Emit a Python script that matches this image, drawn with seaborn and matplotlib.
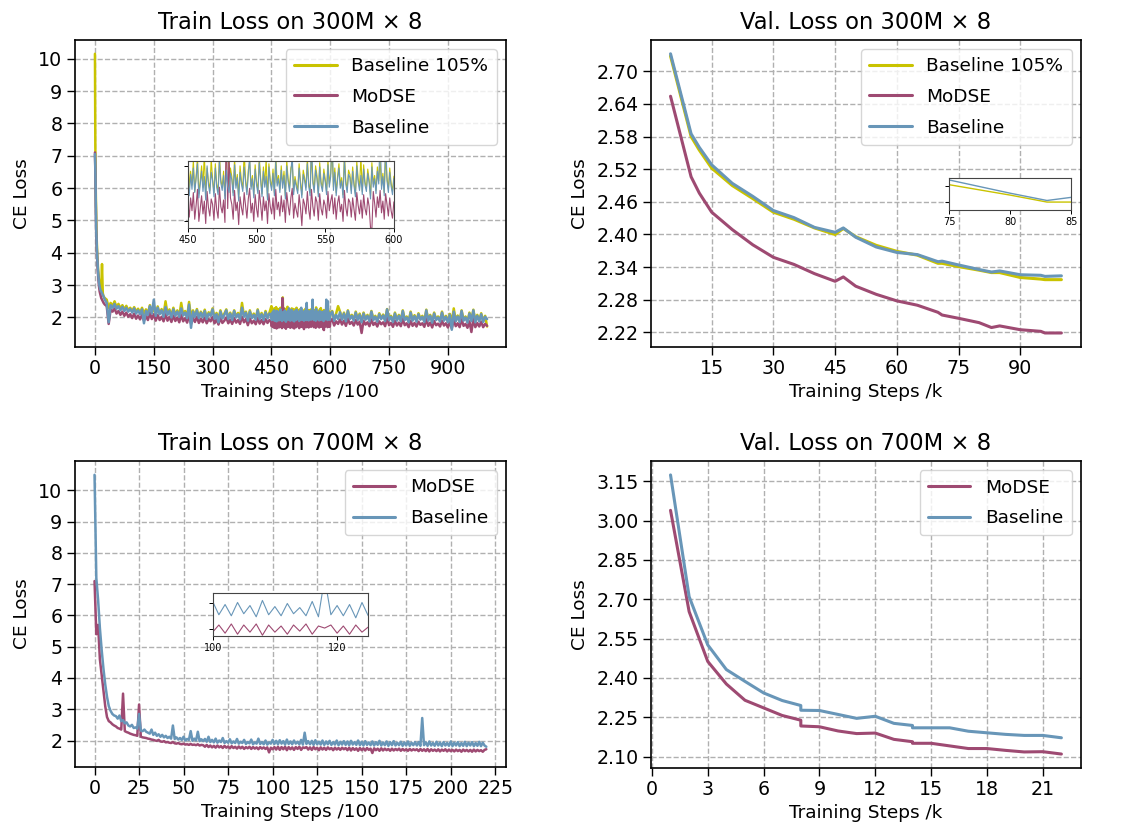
import numpy as np
import pandas as pd
import matplotlib
matplotlib.use("Agg")
import matplotlib.pyplot as plt
import seaborn as sns
from matplotlib.ticker import MultipleLocator, FormatStrFormatter

sns.set_theme(style="ticks")
plt.rcParams['font.family'] = ['DejaVu Sans']
plt.rcParams['axes.edgecolor'] = 'black'
plt.rcParams['xtick.color'] = 'black'
plt.rcParams['ytick.color'] = 'black'
plt.rcParams['axes.labelcolor'] = 'black'
plt.rcParams['text.color'] = 'black'

C_B105 = '#c9c300'
C_MODSE = '#9e4a72'
C_BASE = '#6896b8'

# ---------------- Train loss 300M x 8 (steps /100) ----------------
train300_steps = ([0, 1, 2, 3, 4, 5, 6, 8, 10, 12, 14, 16, 18, 20, 22, 25]
                  + list(range(30, 450, 5)) + list(range(450, 601)) + list(range(605, 1001, 5)))

train300_b105 = [
    10.15, 7.3, 6.0, 5.2, 4.6, 4.2, 3.9, 3.5, 3.2, 3.0, 2.9, 2.85, 3.65, 2.75, 2.65, 2.6,
    2.55, 2.30, 2.45, 2.35, 2.50, 2.32, 2.42, 2.28, 2.38, 2.25,
    2.36, 2.22, 2.30, 2.20, 2.32, 2.18, 2.27, 2.15, 2.30, 2.12,
    2.25, 2.12, 2.38, 2.15, 2.28, 2.10, 2.34, 2.12, 2.26, 2.08,
    2.50, 2.10, 2.25, 2.05, 2.30, 2.08, 2.22, 2.04, 2.45, 2.08,
    2.20, 2.02, 2.48, 2.00, 2.22, 2.05, 2.26, 2.00, 2.18, 2.03,
    2.24, 1.98, 2.16, 2.08, 2.28, 2.00, 2.14, 1.96, 2.22, 2.00,
    2.12, 2.25, 1.98, 2.15, 1.96, 2.22, 2.03, 2.14, 1.98, 2.45,
    2.05, 2.18, 1.94, 2.22, 2.00, 2.12, 1.96, 2.25, 1.98, 2.14,
    1.95, 2.20, 2.00, 2.15,
    # 450..600 every step
    2.35, 1.98, 2.15, 2.02, 2.25, 1.96, 2.10, 2.28, 1.94, 2.06,
    2.20, 2.00, 2.32, 1.92, 2.18, 2.05, 1.97, 2.26, 2.08, 1.95,
    2.22, 2.03, 1.96, 2.30, 2.07, 2.00, 2.15, 1.92, 2.24, 2.62,
    1.99, 2.18, 2.10, 1.95, 2.27, 2.02, 2.12, 1.90, 2.20, 2.06,
    1.99, 2.33, 2.08, 1.96, 2.16, 2.24, 2.01, 2.11, 1.93, 2.21,
    2.05, 1.97, 2.28, 2.09, 1.94, 2.19, 2.03, 2.26, 1.91, 2.22,
    2.07, 2.00, 2.17, 1.95, 2.30, 2.04, 2.11, 1.98, 2.20, 2.02,
    2.15, 1.92, 2.25, 2.08, 1.99, 2.18, 2.22, 1.96, 2.10, 2.03,
    1.97, 2.22, 2.06, 1.93, 2.16, 2.09, 2.00, 2.27, 2.04, 1.95,
    2.30, 2.07, 1.98, 2.20, 2.11, 1.94, 2.23, 2.05, 1.99, 2.17,
    2.08, 1.96, 2.26, 2.03, 2.13, 2.35, 2.00, 2.18, 1.95, 2.10,
    2.22, 2.02, 2.09, 1.93, 2.31, 2.06, 1.98, 2.16, 2.12, 1.97,
    2.19, 2.04, 1.94, 2.24, 2.08, 2.00, 2.29, 1.96, 2.21, 2.05,
    1.99, 2.17, 2.07, 1.92, 2.23, 2.03, 2.11, 1.97, 2.19, 2.06,
    2.25, 2.01, 2.13, 1.95, 2.28, 2.09, 1.98, 2.18, 2.04, 1.96,
    2.10,
    # 605..1000 every 5
    2.20, 1.93, 2.12, 2.35, 2.18,
    1.96, 2.15, 1.91, 2.22, 1.98, 2.08, 1.93, 2.18, 1.95, 2.12,
    1.88, 2.15, 1.96, 2.08, 1.91, 2.20, 1.95, 2.05, 1.90, 2.13,
    1.98, 2.09, 1.92, 2.26, 1.95, 2.05, 1.89, 2.15, 1.93, 2.08,
    1.91, 2.22, 1.95, 2.03, 1.88, 2.18, 1.93, 2.07, 1.90, 2.13,
    1.96, 2.05, 1.89, 2.24, 1.93, 2.08, 1.87, 2.15, 1.95, 2.03,
    1.90, 2.18, 1.93, 2.05, 1.88, 2.11, 1.85, 2.28, 1.91, 2.06,
    1.89, 2.22, 1.93, 2.03, 1.87, 2.15, 1.92, 2.24, 1.88, 2.08,
    1.91, 2.13, 1.89, 2.05, 1.72,
]

train300_modse = [
    7.1, 6.5, 5.5, 4.7, 4.3, 4.0, 3.7, 3.3, 3.0, 2.8, 2.7, 2.6, 2.55, 2.5, 2.45, 2.4,
    2.35, 1.80, 2.25, 2.18, 2.28, 2.12, 2.20, 2.08, 2.18, 2.05,
    2.15, 2.02, 2.10, 1.98, 2.12, 1.96, 2.06, 1.94, 2.08, 1.90,
    2.04, 1.92, 2.15, 1.95, 2.10, 1.90, 2.08, 1.92, 2.02, 1.88,
    2.10, 1.90, 2.02, 1.86, 2.06, 1.89, 2.00, 1.85, 2.08, 1.88,
    1.98, 1.84, 2.05, 1.80, 1.98, 1.86, 2.02, 1.83, 1.96, 1.85,
    2.00, 1.82, 1.95, 1.88, 2.02, 1.82, 1.94, 1.78, 1.98, 1.83,
    1.90, 2.00, 1.82, 1.93, 1.80, 1.98, 1.84, 1.92, 1.80, 2.02,
    1.85, 1.95, 1.76, 1.97, 1.82, 1.90, 1.79, 1.98, 1.81, 1.92,
    1.79, 1.95, 1.83, 1.92,
    # 450..600 every step
    1.85, 1.72, 1.90, 1.78, 1.95, 1.70, 1.83, 1.98, 1.68, 1.80,
    1.92, 1.75, 1.87, 1.66, 1.96, 1.81, 1.73, 1.89, 1.84, 1.69,
    1.94, 1.79, 1.71, 2.00, 1.82, 1.76, 1.88, 1.67, 2.60, 1.80,
    2.30, 1.90, 1.84, 1.70, 1.97, 1.78, 1.86, 1.65, 1.91, 1.81,
    1.74, 1.95, 1.83, 1.71, 1.89, 1.99, 1.76, 1.85, 1.68, 1.93,
    1.80, 1.72, 1.97, 1.84, 1.69, 1.91, 1.78, 1.87, 1.66, 1.94,
    1.82, 1.75, 1.90, 1.70, 1.98, 1.79, 1.86, 1.73, 1.92, 1.77,
    1.88, 1.67, 1.95, 1.83, 1.74, 1.90, 1.99, 1.71, 1.85, 1.78,
    1.72, 1.93, 1.81, 1.64, 1.89, 1.84, 1.75, 1.96, 1.79, 1.70,
    1.98, 1.82, 1.73, 1.91, 1.86, 1.69, 1.94, 1.80, 1.74, 1.88,
    1.83, 1.71, 1.96, 1.78, 1.87, 1.93, 1.75, 1.90, 1.70, 1.85,
    1.92, 1.77, 1.84, 1.68, 1.97, 1.81, 1.73, 1.89, 1.86, 1.72,
    1.90, 1.79, 1.69, 1.95, 1.83, 1.75, 1.88, 1.71, 1.93, 1.80,
    1.74, 1.90, 1.82, 1.62, 1.61, 1.96, 1.85, 1.72, 1.91, 1.81,
    1.97, 1.76, 1.87, 1.70, 1.94, 1.84, 1.73, 1.90, 1.78, 1.71,
    1.86,
    # 605..1000 every 5
    1.95, 1.75, 1.88, 1.80, 1.94,
    1.78, 1.90, 1.74, 1.96, 1.80, 1.86, 1.75, 1.92, 1.78, 1.87,
    1.52, 1.90, 1.78, 1.85, 1.73, 1.94, 1.77, 1.84, 1.72, 1.88,
    1.79, 1.85, 1.73, 1.98, 1.76, 1.83, 1.71, 1.90, 1.75, 1.84,
    1.73, 1.95, 1.76, 1.82, 1.70, 1.90, 1.74, 1.83, 1.72, 1.87,
    1.77, 1.82, 1.71, 1.95, 1.74, 1.84, 1.69, 1.89, 1.76, 1.81,
    1.72, 1.90, 1.75, 1.82, 1.69, 1.86, 1.66, 1.92, 1.73, 1.82,
    1.70, 1.94, 1.74, 1.80, 1.68, 1.88, 1.55, 1.95, 1.70, 1.83,
    1.72, 1.87, 1.70, 1.80, 1.74,
]

train300_base = [
    7.05, 6.6, 5.6, 4.8, 4.4, 4.1, 3.8, 3.4, 3.1, 2.95, 2.85, 2.8, 2.75, 2.7, 2.65, 2.55,
    2.45, 1.85, 2.38, 2.30, 2.42, 2.27, 2.35, 2.22, 2.33, 2.20,
    2.30, 2.18, 2.26, 2.15, 2.28, 2.12, 2.22, 2.10, 2.25, 1.82,
    2.20, 2.08, 2.35, 2.12, 2.55, 2.05, 2.30, 2.10, 2.22, 2.02,
    2.32, 2.08, 2.20, 2.00, 2.25, 2.05, 2.18, 2.02, 2.28, 2.06,
    2.15, 1.98, 2.40, 1.68, 2.18, 2.02, 2.22, 1.98, 2.15, 2.00,
    2.20, 1.95, 2.12, 2.05, 2.25, 1.96, 2.10, 1.85, 2.18, 1.97,
    2.08, 2.22, 1.95, 2.12, 1.92, 2.20, 2.00, 2.10, 1.94, 2.30,
    2.02, 2.15, 1.90, 2.18, 1.98, 2.08, 1.93, 2.22, 1.95, 2.10,
    1.92, 2.16, 1.97, 2.12,
    # 450..600 every step
    2.05, 1.92, 2.12, 1.98, 2.18, 1.95, 2.08, 2.22, 1.90, 2.03,
    2.15, 1.96, 2.10, 1.88, 2.20, 2.02, 1.94, 2.14, 2.06, 1.91,
    2.18, 2.00, 1.93, 2.25, 2.04, 1.97, 2.11, 1.89, 2.16, 2.01,
    1.95, 2.13, 2.07, 1.92, 2.21, 1.99, 2.09, 1.87, 2.14, 2.03,
    1.96, 2.19, 2.05, 1.93, 2.12, 2.28, 1.98, 2.08, 1.90, 2.17,
    2.02, 1.94, 2.23, 2.06, 1.91, 2.15, 2.00, 2.10, 1.88, 2.19,
    2.04, 1.97, 2.13, 1.92, 2.24, 2.01, 2.08, 1.95, 2.16, 1.99,
    2.11, 1.89, 2.20, 2.05, 1.96, 2.14, 2.30, 1.93, 2.07, 2.00,
    1.94, 2.18, 2.03, 1.90, 2.12, 2.06, 1.97, 2.22, 2.01, 1.92,
    2.45, 2.04, 1.95, 2.16, 2.08, 1.91, 2.19, 2.02, 1.96, 2.13,
    2.05, 1.93, 2.21, 2.00, 2.10, 2.55, 1.97, 2.14, 1.92, 2.07,
    2.18, 1.99, 2.06, 1.90, 2.26, 2.03, 1.95, 2.12, 2.09, 1.94,
    2.15, 2.01, 1.91, 2.20, 2.05, 1.97, 2.11, 1.93, 2.17, 2.02,
    1.96, 2.13, 2.04, 1.89, 2.19, 2.00, 2.08, 1.94, 2.15, 2.03,
    2.55, 1.98, 2.10, 1.92, 2.50, 2.06, 1.95, 2.14, 2.01, 1.93,
    2.08,
    # 605..1000 every 5
    2.18, 1.90, 2.08, 1.95, 2.16,
    1.93, 2.12, 1.88, 2.20, 1.95, 2.05, 1.90, 2.15, 1.92, 2.08,
    1.85, 2.12, 1.93, 2.05, 1.88, 2.18, 1.92, 2.02, 1.87, 2.10,
    1.95, 2.06, 1.89, 2.25, 1.92, 2.02, 1.86, 2.12, 1.90, 2.05,
    1.88, 2.20, 1.92, 2.00, 1.85, 2.15, 1.90, 2.04, 1.87, 2.10,
    1.93, 2.02, 1.86, 2.22, 1.90, 2.05, 1.84, 2.12, 1.92, 2.00,
    1.87, 2.15, 1.90, 2.02, 1.85, 2.08, 1.62, 2.18, 1.88, 2.03,
    1.86, 2.20, 1.90, 2.00, 1.84, 2.12, 1.89, 2.22, 1.85, 2.05,
    1.88, 2.10, 1.86, 2.02, 1.95,
]

# ---------------- Val loss 300M x 8 (steps /k) ----------------
val300_steps = [5, 10, 12, 15, 20, 25, 30, 35, 40, 45, 47, 50, 55, 60, 65, 70, 71, 75, 80, 83, 85, 90, 95, 96, 100]
val300_b105 = [2.728, 2.580, 2.555, 2.522, 2.490, 2.466, 2.441, 2.428, 2.412, 2.400, 2.411, 2.396, 2.380,
               2.369, 2.362, 2.347, 2.347, 2.341, 2.3344, 2.330, 2.330, 2.321, 2.318, 2.317, 2.317]
val300_modse = [2.654, 2.506, 2.476, 2.441, 2.409, 2.381, 2.358, 2.345, 2.328, 2.314, 2.322, 2.305, 2.290,
                2.278, 2.270, 2.257, 2.252, 2.246, 2.238, 2.229, 2.232, 2.225, 2.222, 2.219, 2.219]
val300_base = [2.732, 2.585, 2.560, 2.528, 2.494, 2.470, 2.444, 2.431, 2.413, 2.404, 2.412, 2.395, 2.377,
               2.367, 2.363, 2.350, 2.351, 2.344, 2.3356, 2.331, 2.333, 2.326, 2.325, 2.323, 2.324]

# ---------------- Train loss 700M x 8 (steps /100) ----------------
train700_modse = [
    7.1, 5.4, 5.7, 4.6, 4.1, 3.6, 3.1, 2.75, 2.62, 2.58, 2.52,
    2.48, 2.45, 2.40, 2.38, 2.35, 3.50, 2.30, 2.27, 2.25, 2.22, 2.20, 2.18, 2.17, 2.15, 3.15, 2.12, 2.10, 2.09, 2.08, 2.06,
    2.05, 2.03, 2.02, 2.00, 1.99, 2.02, 1.97, 1.96, 1.98, 1.94, 1.95, 1.93, 1.92, 1.95, 1.91,
    1.90, 1.92, 1.89, 1.88, 1.90, 1.87, 1.88, 1.86, 1.89, 1.86, 1.87, 1.85, 1.88, 1.84, 1.86,
    1.85, 1.80, 1.86, 1.79, 1.84, 1.78, 1.83, 1.77, 1.84, 1.78, 1.82, 1.76, 1.83, 1.77, 1.81, 1.75, 1.82, 1.76, 1.80, 1.74,
    1.81, 1.75, 1.80, 1.73, 1.79, 1.75, 1.80, 1.73, 1.79, 1.74, 1.78, 1.72, 1.79, 1.74, 1.78, 1.73, 1.78, 1.62, 1.77, 1.72,
    1.79, 1.71, 1.80, 1.70, 1.79, 1.72, 1.80, 1.69, 1.79, 1.72, 1.78, 1.70, 1.79, 1.73, 1.80, 1.70, 1.78, 1.76, 1.79, 1.71,
    1.78, 1.70, 1.79, 1.72, 1.77, 1.69, 1.78, 1.71, 1.77, 1.70, 1.78, 1.72, 1.76, 1.69, 1.77, 1.71, 1.76, 1.70, 1.77, 1.72,
    1.76, 1.69, 1.77, 1.68, 1.76, 1.70, 1.75, 1.67, 1.76, 1.69, 1.75, 1.68, 1.76, 1.70, 1.74, 1.60, 1.75, 1.69, 1.74, 1.67,
    1.75, 1.68, 1.74, 1.69, 1.73, 1.67, 1.74, 1.68, 1.73, 1.69, 1.74, 1.67, 1.73, 1.68, 1.72, 1.67, 1.73, 1.68, 1.72, 1.69,
    1.72, 1.66, 1.73, 1.67, 1.72, 1.66, 1.73, 1.65, 1.72, 1.67, 1.71, 1.66, 1.72, 1.65, 1.71, 1.67, 1.72, 1.65, 1.71, 1.66,
    1.70, 1.65, 1.71, 1.66, 1.70, 1.64, 1.71, 1.66, 1.70, 1.65, 1.70, 1.64, 1.71, 1.65, 1.70, 1.66, 1.69, 1.64, 1.70, 1.72,
]
train700_base = [
    10.5, 7.2, 6.5, 5.6, 4.9, 4.3, 3.8, 3.4, 3.1, 2.95, 2.85,
    2.80, 2.78, 2.70, 2.80, 2.62, 2.65, 2.55, 2.58, 2.48, 2.45, 2.50, 2.40, 2.42, 2.38, 2.85, 2.32, 2.30, 2.35, 2.28, 2.25,
    2.22, 2.35, 2.18, 2.25, 2.15, 2.20, 2.12, 2.18, 2.10, 2.15, 2.08, 2.12, 2.06, 2.48, 2.05,
    2.10, 2.03, 2.08, 2.02, 2.12, 2.00, 2.05, 2.02, 2.30, 1.99, 2.06, 2.00, 2.28, 1.98, 2.04,
    1.98, 2.05, 1.96, 2.12, 1.95, 2.02, 1.94, 2.06, 1.93, 2.00, 1.95, 2.08, 1.92, 1.98, 1.93, 2.04, 1.91, 1.97, 1.92, 2.05,
    1.90, 1.96, 1.92, 2.02, 1.89, 1.95, 1.91, 2.03, 1.88, 1.94, 1.90, 2.06, 1.89, 1.95, 1.88, 2.00, 1.87, 1.94, 1.90, 2.02,
    1.89, 1.99, 1.88, 2.01, 1.90, 1.98, 1.87, 2.03, 1.89, 1.97, 1.88, 2.00, 1.90, 1.96, 1.88, 2.02, 1.87, 2.25, 1.89, 1.98,
    1.88, 1.99, 1.86, 2.01, 1.88, 1.96, 1.87, 2.00, 1.86, 1.97, 1.88, 1.99, 1.86, 1.95, 1.87, 2.00, 1.85, 1.96, 1.87, 1.98,
    1.86, 1.97, 1.85, 1.99, 1.87, 1.95, 1.86, 2.00, 1.85, 1.96, 1.84, 1.98, 1.86, 1.94, 1.85, 1.97, 1.84, 1.95, 1.86, 1.99,
    1.84, 1.94, 1.85, 1.97, 1.83, 1.95, 1.85, 1.98, 1.84, 1.93, 1.85, 1.96, 1.83, 1.94, 1.84, 1.97, 1.83, 1.93, 1.85, 1.95,
    1.84, 1.95, 1.83, 2.72, 1.85, 1.94, 1.83, 1.97, 1.84, 1.92, 1.83, 1.96, 1.84, 1.93, 1.82, 1.95, 1.84, 1.92, 1.83, 1.97,
    1.82, 1.93, 1.84, 1.95, 1.82, 1.92, 1.83, 1.96, 1.82, 1.93, 1.84, 1.95, 1.82, 1.92, 1.83, 1.96, 1.82, 1.93, 1.84, 1.80,
]
train700_steps = list(range(len(train700_base)))

# ---------------- Val loss 700M x 8 (steps /k) ----------------
val700_steps = [1, 2, 3, 4, 5, 6, 7, 8, 8, 9, 10, 11, 12, 13, 14, 14, 15, 16, 17, 18, 19, 20, 21, 22]
val700_modse = [3.039, 2.653, 2.463, 2.377, 2.315, 2.286, 2.257, 2.239, 2.217, 2.214, 2.198, 2.188,
                2.190, 2.166, 2.157, 2.151, 2.151, 2.141, 2.131, 2.131, 2.124, 2.118, 2.119, 2.110]
val700_base = [3.174, 2.710, 2.526, 2.432, 2.387, 2.343, 2.314, 2.295, 2.277, 2.276, 2.261, 2.246,
               2.254, 2.227, 2.219, 2.210, 2.210, 2.210, 2.197, 2.191, 2.185, 2.181, 2.181, 2.172]


def long_df(steps, series):
    frames = []
    for name, vals in series:
        frames.append(pd.DataFrame({'step': steps, 'loss': vals, 'model': name}))
    return pd.concat(frames, ignore_index=True)


df_t300 = long_df(train300_steps, [('Baseline 105%', train300_b105), ('MoDSE', train300_modse), ('Baseline', train300_base)])
df_v300 = long_df(val300_steps, [('Baseline 105%', val300_b105), ('MoDSE', val300_modse), ('Baseline', val300_base)])
df_t700 = long_df(train700_steps, [('MoDSE', train700_modse), ('Baseline', train700_base)])
df_v700 = long_df(val700_steps, [('MoDSE', val700_modse), ('Baseline', val700_base)])

palette = {'Baseline 105%': C_B105, 'MoDSE': C_MODSE, 'Baseline': C_BASE}

fig = plt.figure(figsize=(11.22, 8.30), dpi=100)
ax_tl = fig.add_axes([0.0668, 0.582, 0.3841, 0.370])
ax_tr = fig.add_axes([0.5802, 0.582, 0.3832, 0.370])
ax_bl = fig.add_axes([0.0668, 0.076, 0.3841, 0.3687])
ax_br = fig.add_axes([0.5802, 0.0747, 0.3832, 0.3699])

TICK_FS = 13.7
LABEL_FS = 13.3
TITLE_FS = 16.3
LEG_FS = 13.3


def draw(ax, df, lw, legend=True):
    sns.lineplot(data=df, x='step', y='loss', hue='model', palette=palette,
                 estimator=None, sort=False, units='model', linewidth=lw, ax=ax, legend=legend)


def style(ax, title, xlabel, xmaj, ymaj, fmt=None):
    ax.set_title(title, fontsize=TITLE_FS, pad=8)
    ax.set_xlabel(xlabel, fontsize=LABEL_FS, labelpad=3)
    ax.set_ylabel('CE Loss', fontsize=LABEL_FS, labelpad=5)
    ax.xaxis.set_major_locator(MultipleLocator(xmaj))
    ax.yaxis.set_major_locator(MultipleLocator(ymaj))
    if fmt:
        ax.yaxis.set_major_formatter(FormatStrFormatter(fmt))
    ax.tick_params(labelsize=TICK_FS, length=5.5, width=1, direction='out', pad=3.5)
    ax.grid(True, linestyle='--', color='#b0b0b0', linewidth=1.0)
    for s in ax.spines.values():
        s.set_linewidth(1.2)
        s.set_color('black')
    leg = ax.legend(loc='upper right', fontsize=LEG_FS, handlelength=2.3, labelspacing=0.68,
                    borderpad=0.45, title=None)
    for l in leg.get_lines():
        l.set_linewidth(2.2)


def inset(ax, df, rect, xlim, ylim, xticks, yticks, lw=0.8):
    ia = ax.inset_axes(rect)
    sns.lineplot(data=df, x='step', y='loss', hue='model', palette=palette,
                 estimator=None, sort=False, units='model', linewidth=lw, ax=ia, legend=False)
    ia.set_xlim(*xlim)
    ia.set_ylim(*ylim)
    ia.set_xticks(xticks)
    ia.set_yticks(yticks)
    ia.set_yticklabels([])
    ia.set_xlabel('')
    ia.set_ylabel('')
    ia.tick_params(labelsize=7, length=3, width=0.7, pad=2)
    ia.set_facecolor('white')
    for s in ia.spines.values():
        s.set_linewidth(0.8)
        s.set_color('#444444')
    ia.grid(False)
    return ia


# Top-left
draw(ax_tl, df_t300, 1.8)
style(ax_tl, 'Train Loss on 300M × 8', 'Training Steps /100', 150, 1)
ax_tl.set_xlim(-51, 1048)
inset(ax_tl, df_t300, [0.262, 0.388, 0.478, 0.219], (450, 600), (1.62, 2.25), [450, 500, 550, 600], [1.68, 1.94, 2.2])

# Top-right
draw(ax_tr, df_v300, 2.2)
style(ax_tr, 'Val. Loss on 300M × 8', 'Training Steps /k', 15, 0.06, '%.2f')
inset(ax_tr, df_v300, [0.693, 0.446, 0.285, 0.103], (75, 85), (2.325, 2.345), [75, 80, 85], [2.33, 2.34], lw=1.0)

# Bottom-left
draw(ax_bl, df_t700, 1.8)
style(ax_bl, 'Train Loss on 700M × 8', 'Training Steps /100', 25, 1)
inset(ax_bl, df_t700, [0.3195, 0.427, 0.361, 0.1405], (100, 125), (1.68, 2.10), [100, 120], [1.75, 2.0])

# Bottom-right
draw(ax_br, df_v700, 2.2)
style(ax_br, 'Val. Loss on 700M × 8', 'Training Steps /k', 3, 0.15, '%.2f')

fig.savefig('out.png', dpi=100)
